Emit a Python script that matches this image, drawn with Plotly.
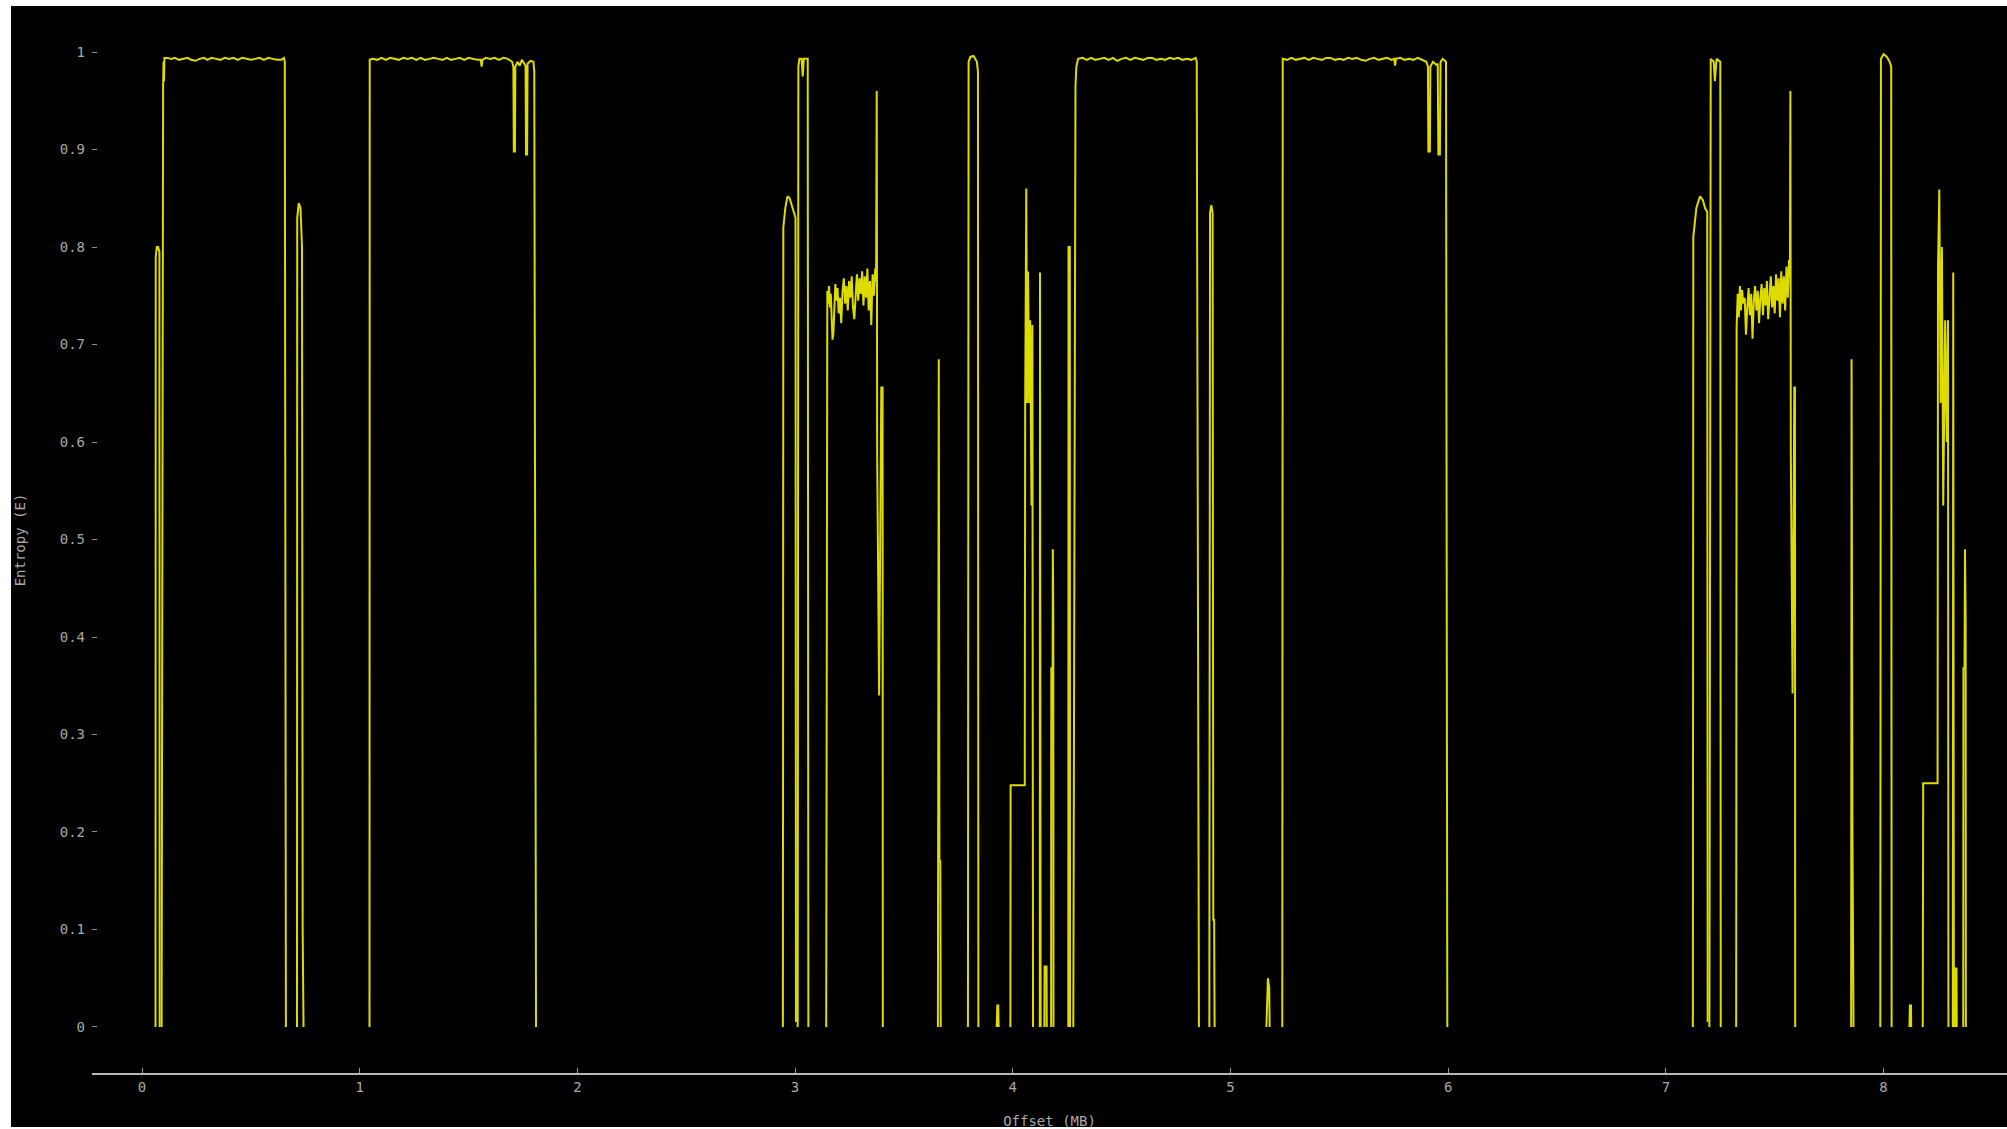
import plotly.graph_objects as go

# ---------------- data (offset in MB, entropy E) ----------------
# Region A : 0 - 1.9 MB
a_x = [0.062, 0.063, 0.068, 0.074, 0.080, 0.081, None,
       0.090, 0.094, 0.097, 0.099, 0.101, 0.103, 0.115, 0.135, 0.150, 0.170, 0.190, 0.210,
       0.225, 0.245, 0.265, 0.285, 0.300, 0.320, 0.340, 0.360, 0.380, 0.400, 0.420, 0.440,
       0.460, 0.480, 0.500, 0.520, 0.540, 0.560, 0.580, 0.600, 0.620, 0.640, 0.652, 0.656, 0.661, None,
       0.712, 0.713, 0.720, 0.728, 0.735, 0.738, 0.742, None,
       1.045, 1.046, 1.060, 1.080, 1.100, 1.120, 1.140, 1.160, 1.180, 1.200, 1.220, 1.240,
       1.260, 1.280, 1.300, 1.320, 1.340, 1.360, 1.380, 1.400, 1.420, 1.440, 1.460, 1.480,
       1.500, 1.520, 1.540, 1.556, 1.560, 1.564, 1.580, 1.600, 1.620, 1.640, 1.660, 1.680,
       1.700, 1.706, 1.708, 1.713, 1.715, 1.725, 1.735, 1.745, 1.755, 1.762, 1.764, 1.769,
       1.771, 1.785, 1.798, 1.802, 1.810, None]
a_y = [0, 0.79, 0.80, 0.80, 0.795, 0, None,
       0, 0.96, 0.965, 0.99, 0.97, 0.994, 0.994, 0.993, 0.994, 0.992, 0.993, 0.994,
       0.992, 0.991, 0.993, 0.994, 0.992, 0.994, 0.993, 0.992, 0.994, 0.993, 0.994, 0.992,
       0.994, 0.993, 0.992, 0.993, 0.994, 0.992, 0.994, 0.993, 0.992, 0.992, 0.994, 0.99, 0, None,
       0, 0.83, 0.845, 0.84, 0.80, 0.10, 0, None,
       0, 0.992, 0.993, 0.992, 0.994, 0.992, 0.994, 0.993, 0.992, 0.994, 0.993, 0.994,
       0.992, 0.994, 0.992, 0.993, 0.994, 0.993, 0.992, 0.994, 0.992, 0.993, 0.994, 0.992,
       0.994, 0.993, 0.992, 0.992, 0.985, 0.992, 0.994, 0.993, 0.994, 0.992, 0.994, 0.993,
       0.990, 0.985, 0.898, 0.898, 0.985, 0.990, 0.986, 0.992, 0.988, 0.986, 0.895, 0.895,
       0.988, 0.991, 0.990, 0.98, 0, None]

# Region B : 2.9 - 4.2 MB
b_x = [2.944, 2.946, 2.955, 2.965, 2.975, 2.985, 2.995, 3.002, 3.004, None,
       3.012, 3.015, 3.020, 3.030, 3.035, 3.040, 3.058, 3.061, None,
       3.143, 3.145, 3.148, 3.152, 3.156, 3.160, 3.164, 3.168, 3.172, 3.176, 3.180, 3.185,
       3.190, 3.195, 3.200, 3.206, 3.212, 3.218, 3.224, 3.230, 3.236, 3.242, 3.248, 3.254,
       3.260, 3.266, 3.272, 3.278, 3.284, 3.290, 3.296, 3.302, 3.308, 3.314, 3.320, 3.326,
       3.332, 3.338, 3.344, 3.350, 3.356, 3.362, 3.368, 3.372, 3.375, 3.377, 3.386, 3.396,
       3.402, 3.403, None,
       3.656, 3.660, 3.663, 3.667, 3.669, None,
       3.794, 3.797, 3.805, 3.820, 3.835, 3.840, 3.842, None,
       3.926, 3.929, 3.933, 3.935, None,
       3.989, 3.990, 4.055, 4.057, 4.062, 4.066, 4.070, 4.076, 4.080, 4.086, 4.090, 4.093, None,
       4.124, 4.125, 4.128, None,
       4.145, 4.146, 4.155, 4.156, None,
       4.176, 4.177, 4.183, 4.184, 4.186, 4.187, None]
b_y = [0, 0.82, 0.84, 0.852, 0.85, 0.843, 0.835, 0.83, 0.005, None,
       0, 0.985, 0.993, 0.993, 0.975, 0.993, 0.993, 0, None,
       0, 0.725, 0.755, 0.742, 0.760, 0.738, 0.752, 0.728, 0.705, 0.712, 0.735, 0.762,
       0.745, 0.758, 0.732, 0.748, 0.722, 0.755, 0.768, 0.742, 0.760, 0.735, 0.765, 0.748,
       0.770, 0.738, 0.726, 0.758, 0.772, 0.745, 0.768, 0.752, 0.775, 0.740, 0.770, 0.748,
       0.778, 0.735, 0.765, 0.720, 0.772, 0.750, 0.778, 0.765, 0.96, 0.59, 0.34, 0.656,
       0.656, 0, None,
       0, 0.685, 0.17, 0.17, 0, None,
       0, 0.99, 0.995, 0.996, 0.99, 0.98, 0, None,
       0, 0.022, 0.022, 0, None,
       0, 0.248, 0.248, 0.64, 0.86, 0.64, 0.775, 0.64, 0.725, 0.535, 0.72, 0, None,
       0, 0.774, 0, None,
       0, 0.062, 0.062, 0, None,
       0, 0.368, 0.368, 0.49, 0.42, 0, None]

# Region C : 4.2 - 6.0 MB
c_x = [4.255, 4.256, 4.262, 4.263, None,
       4.278, 4.288, 4.292, 4.300, 4.320, 4.340, 4.360, 4.380, 4.400, 4.420, 4.440, 4.460,
       4.480, 4.500, 4.520, 4.540, 4.560, 4.580, 4.600, 4.620, 4.640, 4.660, 4.680, 4.700,
       4.720, 4.740, 4.760, 4.780, 4.800, 4.820, 4.840, 4.845, 4.855, None,
       4.903, 4.906, 4.912, 4.918, 4.921, 4.925, 4.927, None,
       5.165, 5.172, 5.178, 5.180, None,
       5.238, 5.240, 5.260, 5.280, 5.300, 5.320, 5.340, 5.360, 5.380, 5.400, 5.420, 5.440,
       5.460, 5.480, 5.500, 5.520, 5.540, 5.560, 5.580, 5.600, 5.620, 5.640, 5.660, 5.680,
       5.700, 5.720, 5.740, 5.752, 5.756, 5.760, 5.780, 5.800, 5.820, 5.840, 5.860, 5.880,
       5.900, 5.907, 5.909, 5.916, 5.918, 5.930, 5.945, 5.952, 5.955, 5.962, 5.965, 5.975,
       5.985, 5.990, 5.996, None]
c_y = [0, 0.80, 0.80, 0, None,
       0, 0.965, 0.985, 0.993, 0.994, 0.992, 0.994, 0.992, 0.993, 0.994, 0.992, 0.994,
       0.991, 0.993, 0.994, 0.992, 0.994, 0.993, 0.992, 0.994, 0.994, 0.992, 0.993, 0.992,
       0.994, 0.993, 0.994, 0.992, 0.993, 0.992, 0.994, 0.99, 0, None,
       0, 0.835, 0.843, 0.835, 0.11, 0.11, 0, None,
       0, 0.05, 0.04, 0, None,
       0, 0.993, 0.992, 0.994, 0.992, 0.993, 0.994, 0.992, 0.994, 0.993, 0.992, 0.994,
       0.994, 0.992, 0.993, 0.992, 0.994, 0.993, 0.994, 0.992, 0.991, 0.993, 0.994, 0.992,
       0.993, 0.994, 0.992, 0.993, 0.986, 0.993, 0.994, 0.992, 0.993, 0.992, 0.994, 0.992,
       0.990, 0.985, 0.898, 0.898, 0.985, 0.990, 0.987, 0.988, 0.895, 0.895, 0.990, 0.993,
       0.991, 0.99, 0, None]

# Region D : 7.1 - 8.4 MB
d_x = [7.124, 7.126, 7.140, 7.157, 7.170, 7.180, 7.190, 7.192, None,
       7.200, 7.203, 7.206, 7.220, 7.225, 7.233, 7.250, 7.252, None,
       7.323, 7.325, 7.330, 7.335, 7.340, 7.345, 7.350, 7.356, 7.362, 7.368, 7.374, 7.380,
       7.386, 7.392, 7.398, 7.404, 7.410, 7.416, 7.422, 7.428, 7.434, 7.440, 7.446, 7.452,
       7.458, 7.464, 7.470, 7.476, 7.482, 7.488, 7.494, 7.500, 7.506, 7.512, 7.518, 7.524,
       7.530, 7.536, 7.542, 7.548, 7.554, 7.560, 7.566, 7.570, 7.572, 7.574, 7.582, 7.590,
       7.593, 7.594, None,
       7.851, 7.853, 7.857, 7.862, None,
       7.985, 7.988, 8.000, 8.015, 8.028, 8.035, 8.037, None,
       8.119, 8.121, 8.126, 8.127, None,
       8.180, 8.182, 8.248, 8.250, 8.256, 8.262, 8.268, 8.274, 8.283, 8.290, 8.296, 8.298, None,
       8.318, 8.320, 8.323, None,
       8.328, 8.329, 8.335, 8.336, None,
       8.366, 8.367, 8.372, 8.374, 8.377, 8.378]
d_y = [0, 0.81, 0.84, 0.852, 0.848, 0.84, 0.836, 0.005, None,
       0, 0.985, 0.993, 0.99, 0.97, 0.993, 0.99, 0, None,
       0, 0.718, 0.752, 0.728, 0.760, 0.735, 0.756, 0.742, 0.748, 0.710, 0.738, 0.758,
       0.730, 0.752, 0.706, 0.745, 0.760, 0.735, 0.755, 0.722, 0.748, 0.762, 0.730, 0.758,
       0.740, 0.765, 0.726, 0.752, 0.770, 0.738, 0.760, 0.732, 0.772, 0.745, 0.768, 0.728,
       0.775, 0.742, 0.770, 0.735, 0.780, 0.748, 0.787, 0.770, 0.96, 0.587, 0.342, 0.656,
       0.656, 0, None,
       0, 0.685, 0.20, 0, None,
       0, 0.993, 0.998, 0.995, 0.99, 0.985, 0, None,
       0, 0.022, 0.022, 0, None,
       0, 0.25, 0.25, 0.777, 0.859, 0.64, 0.80, 0.535, 0.725, 0.60, 0.725, 0, None,
       0, 0.774, 0, None,
       0, 0.06, 0.06, 0, None,
       0, 0.368, 0.368, 0.49, 0.42, 0]

x_ticks = [0, 1, 2, 3, 4, 5, 6, 7, 8]
y_ticks = [0, 0.1, 0.2, 0.3, 0.4, 0.5, 0.6, 0.7, 0.8, 0.9, 1]
y_labels = ["0", "0.1", "0.2", "0.3", "0.4", "0.5", "0.6", "0.7", "0.8", "0.9", "1"]

# ---------------- figure ----------------
W, H = 2007, 1129
L, R, T, B = 92, 0, 7, 56
pw, ph = W - L - R, H - T - B

offset = a_x + b_x + c_x + d_x
entropy = a_y + b_y + c_y + d_y

fig = go.Figure()
fig.add_trace(go.Scatter(
    x=offset, y=entropy, mode="lines", connectgaps=False,
    line=dict(color="#dedb00", width=2), hoverinfo="x+y", name="Entropy"))

font = dict(family="DejaVu Sans Mono", size=14, color="#a8a8a8")

fig.update_layout(
    width=W, height=H,
    margin=dict(l=L, r=R, t=T, b=B, pad=0),
    paper_bgcolor="black", plot_bgcolor="black",
    showlegend=False,
    font=font,
    xaxis=dict(
        range=[-0.2297, 8.567], tickvals=x_ticks, ticks="inside", ticklen=5,
        tickcolor="#9a9a9a", tickwidth=1, showline=True, linecolor="#b8b8b8",
        linewidth=2, showgrid=False, zeroline=False, tickfont=font,
        title=dict(text="Offset (MB)", font=font, standoff=22), automargin=False),
    yaxis=dict(
        range=[-0.0472, 1.0462], tickvals=y_ticks, ticktext=y_labels,
        ticks="inside", ticklen=5, tickcolor="#8a8a8a", tickwidth=1,
        showline=False, showgrid=False, zeroline=False, tickfont=font,
        ticklabelstandoff=6,
        title=dict(text="Entropy (E)", font=font, standoff=30), automargin=False),
)

# white frame pieces at the picture edges (left, top, bottom), figure pixels
def px_x(p):
    return (p - L) / pw

def px_y(p):
    return (H - B - p) / ph

for x0, x1, y0, y1 in [(0, 11, 0, H), (0, W, 0, 6), (0, W, 1127, H)]:
    fig.add_shape(type="rect", xref="paper", yref="paper",
                  x0=px_x(x0), x1=px_x(x1), y0=px_y(y1), y1=px_y(y0),
                  fillcolor="white", line=dict(width=0), layer="above")

# place the figure flush with the window (no page margin, no scrollbars)
page_css = ("document.body.style.margin='0';"
            "document.body.style.overflow='hidden';"
            "document.documentElement.style.overflow='hidden';")

fig.write_html("out.html", post_script=page_css,
               config={"displayModeBar": False})
